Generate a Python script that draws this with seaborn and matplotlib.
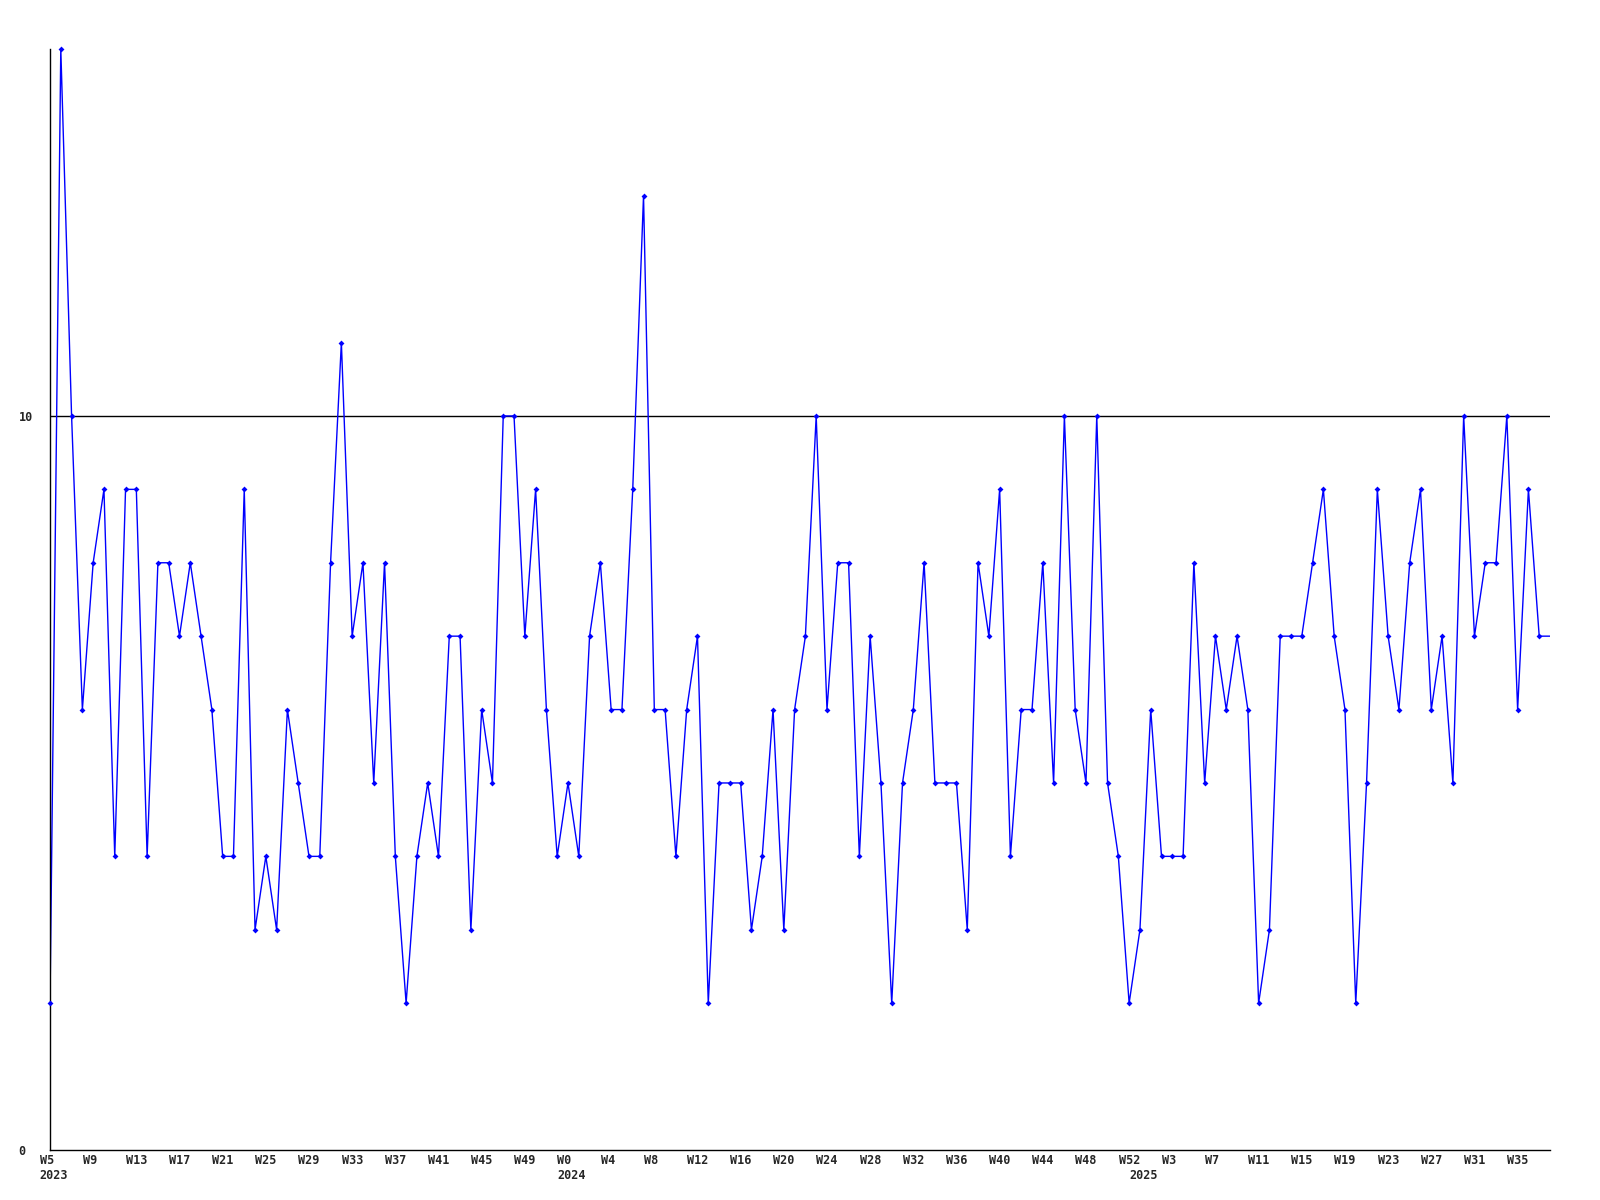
import matplotlib
matplotlib.use("Agg")
import matplotlib.pyplot as plt
import matplotlib.transforms as mtransforms
import seaborn as sns
import pandas as pd

# weekly values, 2023 W5 ... 2025 W38
values = [2, 15, 10, 6, 8, 9, 4, 9, 9, 4,
          8, 8, 7, 8, 7, 6, 4, 4, 9, 3,
          4, 3, 6, 5, 4, 4, 8, 11, 7, 8,
          5, 8, 4, 2, 4, 5, 4, 7, 7, 3,
          6, 5, 10, 10, 7, 9, 6, 4, 5, 4,
          7, 8, 6, 6, 9, 13, 6, 6, 4, 6,
          7, 2, 5, 5, 5, 3, 4, 6, 3, 6,
          7, 10, 6, 8, 8, 4, 7, 5, 2, 5,
          6, 8, 5, 5, 5, 3, 8, 7, 9, 4,
          6, 6, 8, 5, 10, 6, 5, 10, 5, 4,
          2, 3, 6, 4, 4, 4, 8, 5, 7, 6,
          7, 6, 2, 3, 7, 7, 7, 8, 9, 7,
          6, 2, 5, 9, 7, 6, 8, 9, 6, 7,
          5, 10, 7, 8, 8, 10, 6, 9, 7, 7]

tick_labels = ["W5", "W9", "W13", "W17", "W21", "W25", "W29", "W33", "W37",
               "W41", "W45", "W49", "W0", "W4", "W8", "W12", "W16", "W20",
               "W24", "W28", "W32", "W36", "W40", "W44", "W48", "W52", "W3",
               "W7", "W11", "W15", "W19", "W23", "W27", "W31", "W35"]
year_labels = ["2023", "2024", "2025"]
year_first_week_index = [0, 48, 101]
y_tick_values = [0, 10]
reference_level = 10

sns.set_style("white")
plt.rcParams["font.family"] = ["DejaVu Sans Mono", "DejaVu Sans"]

fig = plt.figure(figsize=(16, 12), dpi=100)
ax = fig.add_axes([0.03125, 0.0417, 0.9375, 0.9175])

df = pd.DataFrame({"week": range(len(values)), "value": values})

ax.axhline(reference_level, color="black", lw=1, zorder=1)
sns.lineplot(data=df, x="week", y="value", ax=ax, color="#0000ff", lw=1.0,
             zorder=2, clip_on=True)
sns.scatterplot(data=df.iloc[:-1], x="week", y="value", ax=ax, color="#0000ff",
                marker="D", s=9, linewidth=0, zorder=3, clip_on=False)

ax.set_xlim(0, len(values) - 1)
ax.set_ylim(0, 15)
ax.set_xlabel("")
ax.set_ylabel("")

for side in ["top", "right"]:
    ax.spines[side].set_visible(False)
for side in ["left", "bottom"]:
    ax.spines[side].set_color("black")
    ax.spines[side].set_linewidth(1)

ax.set_yticks(y_tick_values)
ax.set_yticklabels([str(v) for v in y_tick_values], fontsize=8.5,
                   fontweight="bold", ha="left")
ax.tick_params(axis="y", length=0, pad=22.7)

ax.xaxis.remove_overlapping_locs = False
ax.set_xticks(list(range(0, len(values), 4)))
ax.set_xticklabels(tick_labels, fontsize=8.5, fontweight="bold", ha="left")
ax.set_xticks(year_first_week_index, minor=True)
ax.set_xticklabels(year_labels, minor=True, fontsize=8.5, fontweight="bold",
                   ha="left")
ax.tick_params(axis="x", which="major", length=0, pad=3)
ax.tick_params(axis="x", which="minor", length=0, pad=14)

offset = mtransforms.ScaledTranslation(-0.105, 0, fig.dpi_scale_trans)
for lab in ax.get_xticklabels(which="both"):
    lab.set_transform(lab.get_transform() + offset)

fig.savefig("out.png", dpi=100, facecolor="white")
